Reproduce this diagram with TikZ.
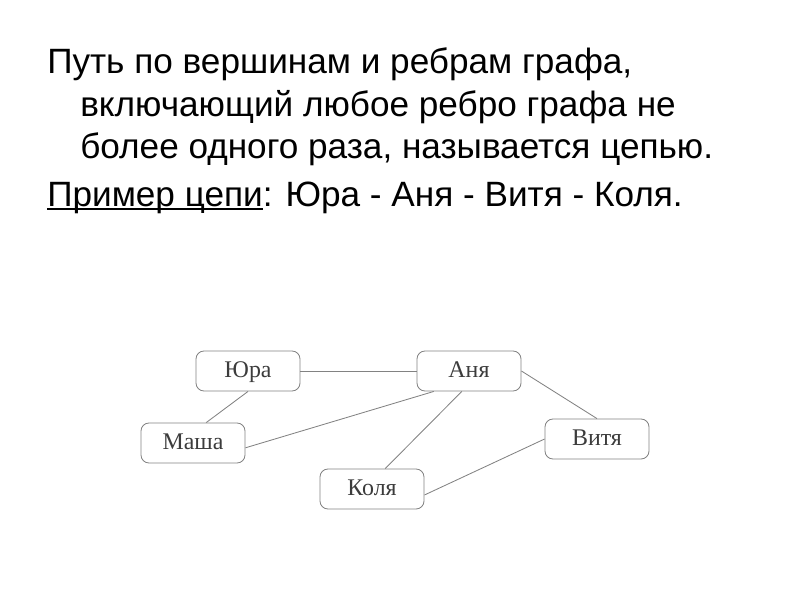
\documentclass[tikz,border=0pt]{standalone}
\usepackage{fontspec}
\setmainfont{Liberation Sans}
\newfontfamily\boxfont{Liberation Serif}
\definecolor{boxgray}{RGB}{130,130,130}
\definecolor{labelgray}{RGB}{60,60,60}
\newcommand\chainul[1]{\setbox0\hbox{#1}\rlap{\rule[-3pt]{\wd0}{1.3pt}}\box0}

\begin{document}
\begin{tikzpicture}[x=0.025cm,y=-0.025cm,
		line/.style={anchor=base west,inner sep=0pt,font=\fontsize{25}{30}\selectfont},
		person/.style={draw=boxgray,line width=0.6pt,rounded corners=0.2cm,
			minimum width=2.6cm,minimum height=1cm,text height=2.4ex,text depth=0.6ex,
			font=\boxfont\fontsize{17}{19}\selectfont,text=labelgray},
		edge/.style={draw=boxgray,line width=0.6pt}]
		\useasboundingbox (0,0) rectangle (800,600);
		\node[line] (l1) at (47,73) {Путь по вершинам и ребрам графа,};
		\node[line] (l2) at (80,116) {включающий любое ребро графа не};
		\node[line] (l3) at (80,158) {более одного раза, называется цепью.};
		\node[line] (l4) at (47,206) {\chainul{Пример цепи}: Юра - Аня - Витя - Коля.};
		\node[person] (yura) at (248,371) {Юра};
		\node[person] (anya) at (469,371) {Аня};
		\node[person] (masha) at (193,443) {Маша};
		\node[person] (vitya) at (597,439) {Витя};
		\node[person] (kolya) at (372,489) {Коля};
		\draw[edge] (yura.east) -- (anya.west);
		\draw[edge] (yura.south) -- ([xshift=0.33cm]masha.north);
		\draw[edge] ([yshift=-0.12cm]masha.east) -- ([xshift=-0.88cm]anya.south);
		\draw[edge] ([xshift=-0.18cm]anya.south) -- ([xshift=0.33cm]kolya.north);
		\draw[edge] (anya.east) -- (vitya.north);
		\draw[edge] (vitya.west) -- ([yshift=-0.15cm]kolya.east);
	\end{tikzpicture}
\end{document}
